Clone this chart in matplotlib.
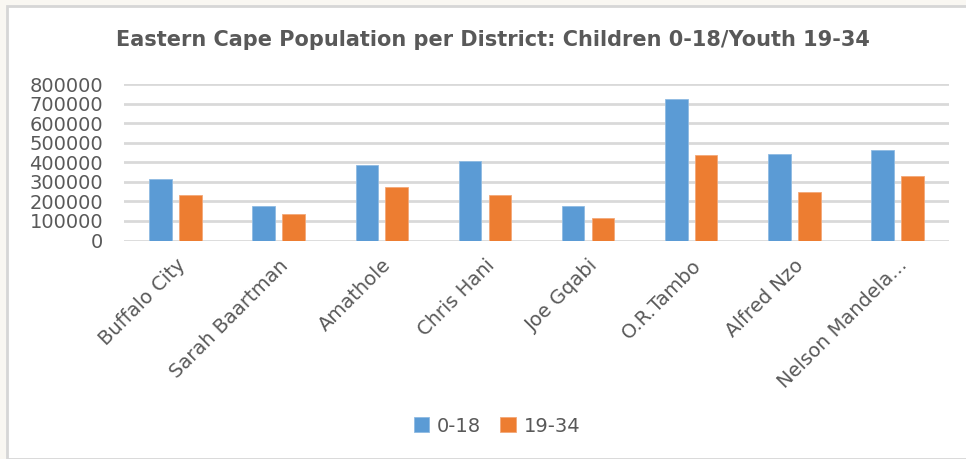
import matplotlib
matplotlib.use("Agg")
import matplotlib.pyplot as plt
import numpy as np
from matplotlib.patches import Rectangle

districts = ["Buffalo City", "Sarah Baartman", "Amathole", "Chris Hani",
             "Joe Gqabi", "O.R.Tambo", "Alfred Nzo", "Nelson Mandela..."]
children_0_18 = [314000, 176000, 384000, 404000, 176000, 725000, 440000, 461000]
youth_19_34 = [232000, 133000, 271000, 232000, 113000, 435000, 246000, 328000]
yticks = [0, 100000, 200000, 300000, 400000, 500000, 600000, 700000, 800000]

W, H = 966, 459
FONT = "DejaVu Sans"
TXT = "#595959"
fig = plt.figure(figsize=(W / 100, H / 100), dpi=100)
fig.patch.set_facecolor("#f9f7f2")
fig.patches.append(Rectangle((7 / W, 0), 1, 1 - 6 / H, transform=fig.transFigure,
                             facecolor="white", edgecolor="#d6d6d6", linewidth=2, zorder=-5))

ax = fig.add_axes([124 / W, 1 - 240.5 / H, (949 - 124) / W, (240.5 - 84) / H], zorder=2)
ax.set_facecolor("none")
x = np.arange(len(districts))
bw = 0.22
off = 0.145
ax.bar(x - off, children_0_18, bw, color="#5B9BD5", edgecolor="#8fbbe3", linewidth=0.6,
       label="0-18", zorder=3)
ax.bar(x + off, youth_19_34, bw, color="#ED7D31", edgecolor="#f3a878", linewidth=0.6,
       label="19-34", zorder=3)

ax.set_xlim(-0.5, len(districts) - 0.5)
ax.set_ylim(0, 800000)
ax.set_yticks(yticks)
ax.set_yticklabels([str(v) for v in yticks], fontsize=14, family=FONT, color=TXT)
ax.yaxis.grid(True, color="#d9d9d9", linewidth=2, zorder=0)
ax.set_axisbelow(True)
for s in ax.spines.values():
    s.set_visible(False)
ax.tick_params(axis="both", length=0, colors=TXT)
ax.tick_params(axis="y", pad=15)
ax.set_xticks(x)
ax.set_xticklabels(districts, rotation=45, ha="right", rotation_mode="anchor",
                   fontsize=14, family=FONT, color=TXT)
ax.tick_params(axis="x", pad=11)

fig.text(493 / W, 1 - 40 / H, "Eastern Cape Population per District: Children 0-18/Youth 19-34",
         ha="center", va="center", fontsize=15, fontweight="bold",
         family=FONT, color=TXT)

fig.legend(loc="center", bbox_to_anchor=(497 / W, 1 - 426 / H), ncol=2, frameon=False,
           prop={"family": FONT, "size": 14}, labelcolor=TXT,
           handlelength=0.8, handleheight=0.8, handletextpad=0.4, columnspacing=1.0)

fig.savefig("out.png", dpi=100, facecolor=fig.get_facecolor())
